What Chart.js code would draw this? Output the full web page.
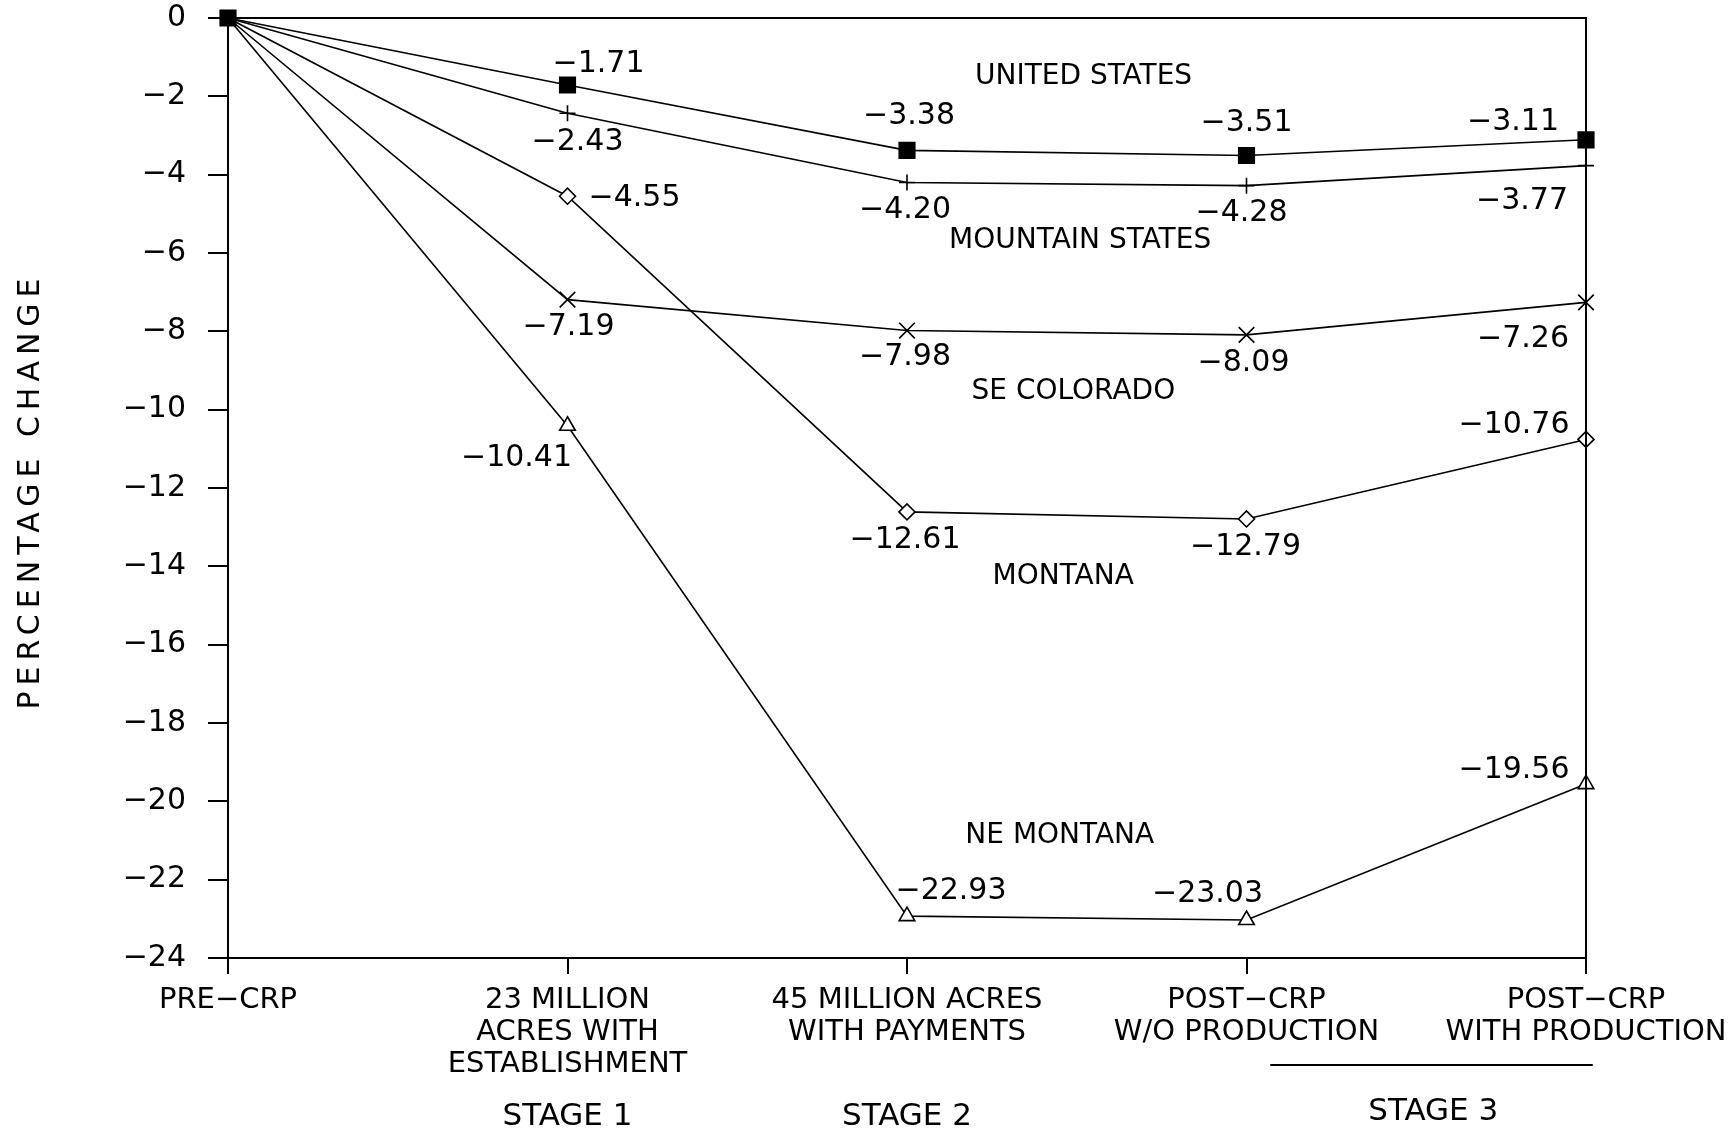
<!DOCTYPE html>
<html>
<head>
<meta charset="utf-8">
<script src="https://cdn.jsdelivr.net/npm/chart.js@4.4.1/dist/chart.umd.min.js"></script>
<style>
  html, body { margin: 0; padding: 0; background: #fff; }
</style>
</head>
<body>
<canvas id="chart" width="1731" height="1134"></canvas>
<script>
// Stages of the CRP scenario (x axis)
const stages = [
    ['PRE\u2212CRP'],
    ['23 MILLION', 'ACRES WITH', 'ESTABLISHMENT'],
    ['45 MILLION ACRES', 'WITH PAYMENTS'],
    ['POST\u2212CRP', 'W/O PRODUCTION'],
    ['POST\u2212CRP', 'WITH PRODUCTION']
];

// Percentage change by region
const unitedStates   = [0, -1.71, -3.38, -3.51, -3.11];
const mountainStates = [0, -2.43, -4.20, -4.28, -3.77];
const seColorado     = [0, -7.19, -7.98, -8.09, -7.26];
const montana        = [0, -4.55, -12.61, -12.79, -10.76];
const neMontana      = [0, -10.41, -22.93, -23.03, -19.56];

const yTicks = [0, -2, -4, -6, -8, -10, -12, -14, -16, -18, -20, -22, -24];
const regionNames = ['UNITED STATES', 'MOUNTAIN STATES', 'SE COLORADO', 'MONTANA', 'NE MONTANA'];
const stageNames = ['STAGE 1', 'STAGE 2', 'STAGE 3'];

// where each region name sits, in axis units (stage index, percent)
const regionNameSpots = [[2.52, -1.51], [2.51, -5.69], [2.49, -9.55], [2.46, -14.27], [2.45, -20.88]];

// value label offsets from each point, px
const labelOffsets = [
    [null, [31, -21], [2, -34], [0, -32], [-73, -18]],
    [null, [10, 29], [-2, 28], [-5, 28], [-64, 36]],
    [null, [1, 28], [-2, 27], [-3, 28], [-63, 37]],
    [null, [67, 2], [-2, 28], [-1, 28], [-72, -14]],
    [null, [-51, 32], [44, -25], [-39, -26], [-72, -14]]
];

const FONT = "'DejaVu Sans', sans-serif";
const fmt = v => (v < 0 ? '\u2212' : '') + Math.abs(v).toFixed(2);

const hideFirst = r => [0, r, r, r, r];

function series(data, style, radius, fill, firstRadius) {
    return {
        data,
        borderColor: '#000',
        borderWidth: 1.6,
        tension: 0,
        clip: false,
        pointStyle: style,
        pointRadius: firstRadius ? radius : hideFirst(radius),
        pointBackgroundColor: fill,
        pointBorderColor: '#000',
        pointBorderWidth: 1.6
    };
}

const annotate = {
    id: 'annotate',
    afterDatasetsDraw(chart) {
        const ctx = chart.ctx;
        const xs = chart.scales.x, ys = chart.scales.y;
        const area = chart.chartArea;
        ctx.save();
        ctx.fillStyle = '#000';
        ctx.strokeStyle = '#000';

        // frame: top and right edges
        ctx.lineWidth = 2;
        ctx.beginPath();
        ctx.moveTo(area.left, area.top);
        ctx.lineTo(area.right, area.top);
        ctx.lineTo(area.right, area.bottom);
        ctx.stroke();

        // value labels
        ctx.font = '30px ' + FONT;
        ctx.textAlign = 'center';
        ctx.textBaseline = 'middle';
        chart.data.datasets.forEach((ds, i) => {
            const meta = chart.getDatasetMeta(i);
            ds.data.forEach((v, j) => {
                const off = labelOffsets[i][j];
                if (!off) return;
                const pt = meta.data[j];
                ctx.fillText(fmt(v), pt.x + off[0], pt.y + off[1]);
            });
        });

        // region names
        ctx.font = '28px ' + FONT;
        regionNames.forEach((name, i) => {
            const [sx, sy] = regionNameSpots[i];
            ctx.fillText(name, xs.getPixelForValue(sx), ys.getPixelForValue(sy));
        });

        // stage captions under the axis
        ctx.font = '31px ' + FONT;
        ctx.fillText(stageNames[0], xs.getPixelForValue(1), 1117);
        ctx.fillText(stageNames[1], xs.getPixelForValue(2), 1117);
        ctx.fillText(stageNames[2], xs.getPixelForValue(3.55), 1112);
        ctx.lineWidth = 2;
        ctx.beginPath();
        ctx.moveTo(xs.getPixelForValue(3.07), 1065);
        ctx.lineTo(xs.getPixelForValue(4.02), 1065);
        ctx.stroke();

        // y axis title, spaced out
        ctx.font = '30px ' + FONT;
        ctx.letterSpacing = '6px';
        ctx.translate(31, (area.top + area.bottom) / 2 + 3);
        ctx.rotate(-Math.PI / 2);
        ctx.fillText('PERCENTAGE CHANGE', 0, 0);
        ctx.restore();
    }
};

Chart.defaults.font.family = FONT;
Chart.defaults.color = '#000';

new Chart(document.getElementById('chart'), {
    type: 'line',
    data: {
        labels: stages,
        datasets: [
            series(unitedStates, 'rect', 11, '#000', true),
            series(mountainStates, 'cross', 8, '#000'),
            series(seColorado, 'crossRot', 11, '#000'),
            series(montana, 'rectRot', 8, '#fff'),
            series(neMontana, 'triangle', 9, '#fff')
        ]
    },
    options: {
        responsive: false,
        animation: false,
        layout: { padding: { left: 0, right: 145, top: 18, bottom: 0 } },
        plugins: { legend: { display: false }, tooltip: { enabled: false } },
        scales: {
            x: {
                type: 'category',
                offset: false,
                afterFit: s => { s.height = 176; s.paddingLeft = 0; s.paddingRight = 0; },
                grid: { drawOnChartArea: false, drawTicks: true, tickLength: 16, color: '#000', lineWidth: 2 },
                border: { color: '#000', width: 2 },
                ticks: { autoSkip: false, maxRotation: 0, padding: 11, font: { size: 29, lineHeight: 1.1 } }
            },
            y: {
                min: -24,
                max: 0,
                afterBuildTicks: s => { s.ticks = yTicks.map(v => ({ value: v })); },
                afterFit: s => { s.width = 228; s.paddingTop = 0; s.paddingBottom = 0; },
                grid: { drawOnChartArea: false, drawTicks: true, tickLength: 20, color: '#000', lineWidth: 2 },
                border: { color: '#000', width: 2 },
                ticks: { padding: 22, font: { size: 30 }, callback: v => (v < 0 ? '\u2212' : '') + Math.abs(v) }
            }
        }
    },
    plugins: [annotate]
});
</script>
</body>
</html>
